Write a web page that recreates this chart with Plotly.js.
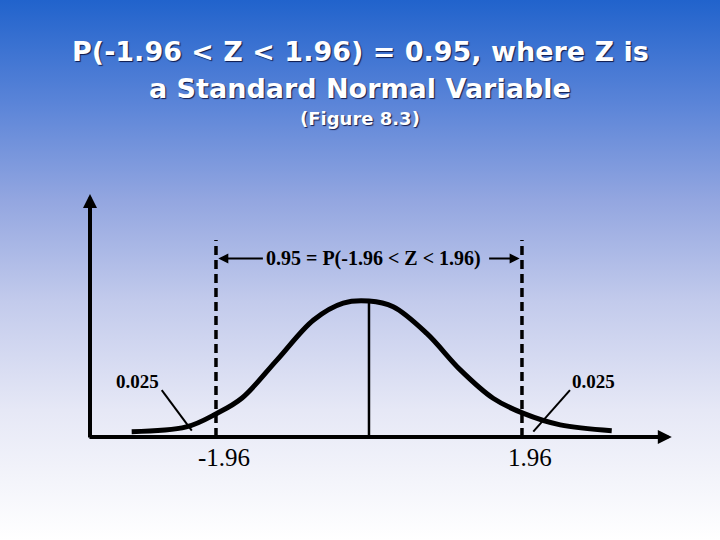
<!DOCTYPE html>
<html><head><meta charset="utf-8">
<script src="https://cdn.plot.ly/plotly-3.0.1.min.js"></script>
<style>
html,body{margin:0;padding:0;width:720px;height:540px;overflow:hidden;
background:linear-gradient(to bottom,#2163cc 0%,#5a84d8 19%,#93a6e0 37%,#c3cbec 56%,#e6e8f6 76%,#ffffff 100%);}
#chart{width:720px;height:540px;}
</style>
</head><body><div id="chart"></div>
<script>
// Values
const curveZ = [-3.04,-2.34,-1.95,-1.63,-1.18,-0.71,-0.33,0,0.31,0.74,1.17,1.59,1.98,2.45,3.11];
const curveDensity = [0.016,0.030,0.070,0.115,0.228,0.347,0.397,0.403,0.386,0.307,0.199,0.115,0.070,0.036,0.019];
const criticalZ = [-1.96, 1.96];
const criticalLabels = ['-1.96', '1.96'];
const tailAreas = ['0.025', '0.025'];
const centralLabel = '0.95 = P(-1.96 < Z < 1.96)';
const titleLines = ['P(-1.96 < Z < 1.96) = 0.95, where Z is', 'a Standard Normal Variable'];
const subtitle = '(Figure 8.3)';
const peakDensity = 0.403;

const serif = 'Liberation Serif, Times New Roman, serif';
const sans = 'DejaVu Sans, Verdana, sans-serif';
const shadow = '1px 1px 1px rgba(0,0,40,0.8)';

const traces = [
  {x: curveZ, y: curveDensity, mode: 'lines', line: {color: '#000', width: 5, shape: 'spline', smoothing: 1}, hoverinfo: 'skip'},
  {x: [criticalZ[0], criticalZ[0]], y: [0, 0.584], mode: 'lines', line: {color: '#000', width: 3.5, dash: '9px,5px'}, hoverinfo: 'skip'},
  {x: [criticalZ[1], criticalZ[1]], y: [0, 0.584], mode: 'lines', line: {color: '#000', width: 3.5, dash: '9px,5px'}, hoverinfo: 'skip'},
  {x: [0, 0], y: [0, peakDensity], mode: 'lines', line: {color: '#000', width: 2.5}, hoverinfo: 'skip'},
  {x: [-2.655, -2.27], y: [0.139, 0.019], mode: 'lines', line: {color: '#000', width: 2}, hoverinfo: 'skip'},
  {x: [2.575, 2.105], y: [0.139, 0.016], mode: 'lines', line: {color: '#000', width: 2}, hoverinfo: 'skip'}
];

const arrow = (x, y, ax, ay, w, size) => ({x: x, y: y, ax: ax, ay: ay, xref: 'x', yref: 'y', axref: 'x', ayref: 'y',
  text: '', showarrow: true, arrowhead: 2, arrowsize: size, arrowwidth: w, arrowcolor: '#000', standoff: 0, startstandoff: 0});

const annotations = [
  arrow(3.88, 0, -3.60, 0, 4, 0.7),
  arrow(-3.574, 0.72, -3.574, -0.006, 4, 0.7),
  arrow(-1.93, 0.529, -1.34, 0.529, 2, 1),
  arrow(1.93, 0.529, 1.52, 0.529, 2, 1),
  {x: 0.06, y: 0.529, xref: 'x', yref: 'y', xanchor: 'center', yanchor: 'middle', text: centralLabel, showarrow: false,
   font: {family: serif, size: 20, color: '#000', weight: 'bold'}},
  {x: -2.96, y: 0.166, xref: 'x', yref: 'y', xanchor: 'center', yanchor: 'middle', text: tailAreas[0], showarrow: false,
   font: {family: serif, size: 19, color: '#000', weight: 'bold'}},
  {x: 2.87, y: 0.166, xref: 'x', yref: 'y', xanchor: 'center', yanchor: 'middle', text: tailAreas[1], showarrow: false,
   font: {family: serif, size: 19, color: '#000', weight: 'bold'}},
  {x: criticalZ[0], y: -0.062, xref: 'x', yref: 'y', xshift: 8, xanchor: 'center', yanchor: 'middle', text: criticalLabels[0], showarrow: false,
   font: {family: serif, size: 25, color: '#000'}},
  {x: criticalZ[1], y: -0.062, xref: 'x', yref: 'y', xshift: 8, xanchor: 'center', yanchor: 'middle', text: criticalLabels[1], showarrow: false,
   font: {family: serif, size: 25, color: '#000'}},
  {x: 0.5, y: 0.904, xref: 'paper', yref: 'paper', xanchor: 'center', yanchor: 'middle', text: titleLines[0], showarrow: false,
   font: {family: sans, size: 27, color: '#fff', weight: 'bold', shadow: shadow}},
  {x: 0.5, y: 0.837, xref: 'paper', yref: 'paper', xanchor: 'center', yanchor: 'middle', text: titleLines[1], showarrow: false,
   font: {family: sans, size: 27, color: '#fff', weight: 'bold', shadow: shadow}},
  {x: 0.5, y: 0.781, xref: 'paper', yref: 'paper', xanchor: 'center', yanchor: 'middle', text: subtitle, showarrow: false,
   font: {family: sans, size: 18, color: '#fff', weight: 'bold', shadow: shadow}}
];

const layout = {
  width: 720, height: 540,
  margin: {l: 0, r: 0, t: 0, b: 0},
  paper_bgcolor: 'rgba(0,0,0,0)', plot_bgcolor: 'rgba(0,0,0,0)',
  showlegend: false,
  xaxis: {range: [-4.727, 4.497], visible: false, fixedrange: true},
  yaxis: {range: [-0.305, 1.295], visible: false, fixedrange: true},
  annotations: annotations
};

Plotly.newPlot('chart', traces, layout, {displayModeBar: false, staticPlot: true});
</script>
</body></html>
